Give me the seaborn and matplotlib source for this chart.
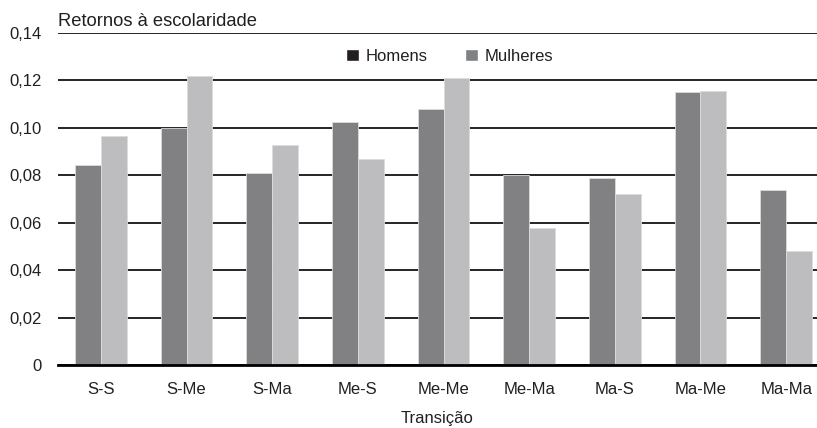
import numpy as np
import pandas as pd
import matplotlib
matplotlib.use("Agg")
import matplotlib.pyplot as plt
import matplotlib.ticker as mticker
from matplotlib.patches import Patch
import seaborn as sns

sns.set_theme(style="white")
plt.rcParams['font.family'] = ['Liberation Sans', 'DejaVu Sans']

transicoes = ["S-S", "S-Me", "S-Ma", "Me-S", "Me-Me", "Me-Ma", "Ma-S", "Ma-Me", "Ma-Ma"]
homens = [0.0842, 0.100, 0.081, 0.1024, 0.108, 0.080, 0.0789, 0.1150, 0.074]
mulheres = [0.0965, 0.1217, 0.0926, 0.087, 0.1211, 0.0579, 0.0721, 0.1157, 0.0481]
grupos = ["Homens", "Mulheres"]

df = pd.DataFrame({
    "Transição": transicoes * 2,
    "valor": homens + mulheres,
    "grupo": ["Homens"] * len(homens) + ["Mulheres"] * len(mulheres),
})

fig = plt.figure(figsize=(8.17, 4.28), dpi=100)
ax = fig.add_axes([0.071, 0.147, 0.929, 0.776])

ax.set_axisbelow(True)
ax.yaxis.grid(True, color="black", linewidth=1.2)
ax.xaxis.grid(False)

sns.barplot(data=df, x="Transição", y="valor", hue="grupo", order=transicoes,
            hue_order=grupos, palette=["#808184", "#bcbdc1"], width=0.6,
            edgecolor="#dcdcdc", linewidth=0.6, ax=ax, legend=False)

ax.set_ylim(0, 0.14)
ax.set_yticks(np.arange(0, 0.141, 0.02))
ax.yaxis.set_major_formatter(mticker.FuncFormatter(
    lambda v, p: "0" if abs(v) < 1e-9 else f"{v:.2f}".replace(".", ",")))
ax.set_xlim(-0.5, 8.36)

for s in ["left", "right", "top"]:
    ax.spines[s].set_visible(False)
ax.spines["bottom"].set_color("black")
ax.spines["bottom"].set_linewidth(2)

ax.tick_params(axis="both", length=0, labelsize=12, colors="#231f20")
ax.tick_params(axis="y", pad=12)
ax.tick_params(axis="x", pad=12)
ax.set_ylabel("")
ax.set_xlabel("Transição", fontsize=12, color="#231f20", labelpad=10)

ax.text(0, 1.008, "Retornos à escolaridade", transform=ax.transAxes,
        ha="left", va="bottom", fontsize=13.2, color="#231f20")

handles = [Patch(facecolor="#231f20"), Patch(facecolor="#808184")]
ax.legend(handles, grupos, loc="center", bbox_to_anchor=(0.516, 0.93), ncol=2,
          frameon=False, fontsize=12, handlelength=0.8, handleheight=0.8,
          handletextpad=0.4, columnspacing=2.2, labelcolor="#231f20")

fig.savefig("out.png", dpi=100)
